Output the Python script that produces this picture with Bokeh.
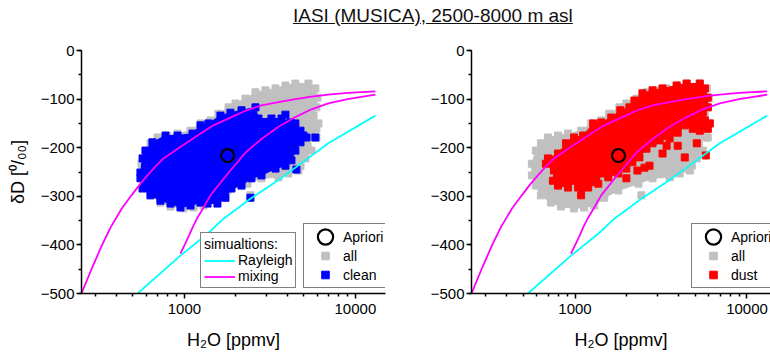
from bokeh.plotting import figure
from bokeh.models import (Range1d, FixedTicker, SingleIntervalTicker, PrintfTickFormatter,
                          Legend, LegendItem, Div)
from bokeh.layouts import column, row
from bokeh.embed import file_html
from bokeh.resources import INLINE

TITLE = "IASI (MUSICA), 2500-8000 m asl"
X_LABEL = "H\u2082O [ppmv]"
Y_LABEL = "\u03b4D [\u2070/\u2080\u2080]"

x_major_ticks = [1000, 10000]
x_minor_ticks = [300, 400, 500, 600, 700, 800, 900, 2000, 3000, 4000, 5000, 6000, 7000, 8000, 9000]

# simulations
rayleigh_h2o = [532, 948, 1365, 1692, 2432, 3499, 4457, 6950, 13100]
rayleigh_dd = [-500, -422, -377, -346, -305, -268, -241, -191, -134]

mix1_h2o = [250, 290, 330, 370, 430, 490, 550, 608, 680, 754, 850, 948, 1070, 1192, 1479,
            1858, 2275, 2823, 3548, 4457, 5534, 6950, 9000, 13100]
mix1_dd = [-500, -445, -400, -364, -325, -298, -275, -257, -238, -222, -210, -198, -186, -175, -154,
           -138, -124, -113, -106, -100, -95, -91, -87, -84]

mix2_h2o = [948, 1060, 1130, 1192, 1293, 1420, 1625, 1858, 2275, 2823, 3548, 4457, 5534, 6950,
            9000, 13100]
mix2_dd = [-418, -382, -360, -344, -323, -298, -272, -247, -210, -182, -157, -137, -121, -109,
           -100, -91]

apriori_h2o = [1790]
apriori_dd = [-216]

# "all" observations: edge of the dense cloud + isolated points
all_out_h2o = [561, 592, 633, 696, 796, 911, 1085, 1242, 1420, 1581, 1811, 1989, 2275, 2604,
               2979, 3409, 3899, 4457, 5314, 5834, 5998, 5916, 5689, 6081, 5916, 5458, 5534,
               5105, 4775, 4645, 4059, 3548, 2823, 2339, 1786, 1479, 1293, 1130, 987, 829,
               724, 633, 592, 561]
all_out_dd = [-233, -206, -191, -179, -175, -171, -165, -150, -144, -130, -117, -109, -99, -86,
              -82, -78, -72, -68, -68, -78, -97, -117, -134, -150, -161, -175, -206,
              -222, -237, -247, -253, -261, -263, -274, -288, -303, -319, -323, -325, -321,
              -313, -298, -278, -257]
all_pts_h2o = [5916, 2432, 5834, 3899]
all_pts_dd = [-179, -298, -179, -132]

# "clean" observations
clean_out_h2o = [553, 569, 592, 650, 775, 911, 1115, 1242, 1383, 1625, 1858, 2157, 2604, 2710,
                 3228, 3698, 4169, 4457, 4775, 4966, 5176, 4775, 4457, 4227, 3899, 3409, 2823,
                 2466, 2157, 1884, 1738, 1560, 1365, 1242, 1085, 948, 829, 724, 633, 569, 553]
clean_out_dd = [-251, -222, -206, -189, -175, -175, -171, -154, -150, -134, -128, -123, -117, -140,
                -140, -140, -148, -150, -165, -175, -179, -189, -206, -226, -237, -243, -257,
                -263, -278, -284, -303, -315, -315, -313, -319, -323, -315, -309, -298, -284, -263]
clean_pts_h2o = [3899, 5834, 4519, 2432]
clean_pts_dd = [-132, -179, -245, -303]

# "dust" observations
dust_out_h2o = [1834, 1625, 1420, 1275, 1115, 987, 887, 796, 696, 677, 754, 744, 796, 911, 987,
                1042, 1085, 1192, 1365, 1420, 1560, 1786, 1989, 2157, 2369, 2604, 2823, 3102,
                3548, 3954, 4345, 4836, 5314, 5916, 6081, 5689, 5534, 5916, 5916, 5689, 5314,
                4457, 3899, 3228, 2823, 2466, 2215, 2071]
dust_out_dd = [-123, -138, -148, -150, -175, -179, -191, -212, -222, -233, -247, -268, -278, -282, -268,
               -282, -298, -282, -274, -253, -261, -253, -243, -230, -220, -202, -191, -185,
               -181, -169, -154, -161, -165, -161, -150, -144, -128, -117, -97, -78, -68,
               -68, -72, -78, -82, -88, -103, -117]
dust_pts_h2o = [3409, 3954, 4345, 5105, 5761, 2535, 3228, 1989, 2306, 2710]
dust_pts_dd = [-196, -196, -220, -191, -216, -241, -212, -263, -247, -237]

GRAY = "#C0C0C0"
CYAN = "#00FFFF"
MAGENTA = "#FF00FF"
FONT = "Liberation Sans"


def make_panel(sub_out_h2o, sub_out_dd, sub_pts_h2o, sub_pts_dd, color, sub_label,
               x_end, width, border_right, show_ylabel, legend_x, sim_legend):
    p = figure(width=width, height=318, x_axis_type="log",
               x_range=Range1d(250, x_end), y_range=Range1d(-500, 0),
               output_backend="svg", toolbar_location=None,
               min_border_left=81, min_border_right=border_right,
               min_border_top=15, min_border_bottom=60,
               outline_line_color=None, background_fill_color="white",
               border_fill_color="white")
    p.xgrid.visible = False
    p.ygrid.visible = False

    # "all" cloud
    p.patch(all_out_h2o, all_out_dd, fill_color=GRAY, line_color=GRAY, line_width=1)
    p.scatter(all_out_h2o, all_out_dd, marker="square", size=7, fill_color=GRAY, line_color=GRAY)
    r_all = p.scatter(all_pts_h2o, all_pts_dd, marker="square", size=7,
                      fill_color=GRAY, line_color=GRAY)
    # subset cloud
    p.patch(sub_out_h2o, sub_out_dd, fill_color=color, line_color=color, line_width=1)
    p.scatter(sub_out_h2o, sub_out_dd, marker="square", size=7, fill_color=color, line_color=color)
    r_sub = p.scatter(sub_pts_h2o, sub_pts_dd, marker="square", size=7,
                      fill_color=color, line_color=color)
    # simulations
    r_ray = p.line(rayleigh_h2o, rayleigh_dd, line_color=CYAN, line_width=1.8)
    r_mix = p.multi_line([mix1_h2o, mix2_h2o], [mix1_dd, mix2_dd],
                         line_color=MAGENTA, line_width=1.8)
    r_apr = p.ellipse(x=apriori_h2o, y=apriori_dd, width=13, height=13,
                      width_units="screen", height_units="screen",
                      fill_color=None, line_color="black", line_width=2.2)

    p.xaxis.ticker = FixedTicker(ticks=x_major_ticks, minor_ticks=x_minor_ticks)
    p.xaxis.formatter = PrintfTickFormatter(format="%d")
    p.yaxis.ticker = SingleIntervalTicker(interval=100, num_minor_ticks=2)
    for ax in (p.xaxis[0], p.yaxis[0]):
        ax.axis_line_width = 1.5
        ax.axis_line_color = "black"
        ax.major_tick_line_width = 1.5
        ax.minor_tick_line_width = 1.5
        ax.major_tick_line_color = "black"
        ax.minor_tick_line_color = "black"
        ax.major_tick_in = 0
        ax.major_tick_out = 5
        ax.minor_tick_in = 0
        ax.minor_tick_out = 3
        ax.major_label_text_font = FONT
        ax.major_label_text_font_size = "15px"
        ax.major_label_text_color = "black"
        ax.axis_label_text_font = FONT
        ax.axis_label_text_font_size = "18px"
        ax.axis_label_text_font_style = "normal"
        ax.axis_label_text_color = "black"
    p.yaxis.major_label_standoff = 2
    p.xaxis.major_label_standoff = 5
    p.xaxis.axis_label = X_LABEL
    p.xaxis.axis_label_standoff = 13
    if show_ylabel:
        p.yaxis.axis_label = Y_LABEL
        p.yaxis.axis_label_standoff = 10

    def style(leg):
        leg.label_text_font = FONT
        leg.label_text_font_size = "14px"
        leg.label_text_color = "black"
        leg.border_line_color = "black"
        leg.border_line_width = 1
        leg.background_fill_color = "white"
        leg.background_fill_alpha = 1.0

    if sim_legend:
        leg1 = Legend(items=[LegendItem(label="Rayleigh", renderers=[r_ray]),
                             LegendItem(label="mixing", renderers=[r_mix])],
                      location=(119, 5), title="simualtions:",
                      glyph_width=31, glyph_height=15, label_height=15,
                      spacing=-1, padding=3, label_standoff=3, title_standoff=0)
        style(leg1)
        leg1.title_text_font = FONT
        leg1.title_text_font_size = "14px"
        leg1.title_text_font_style = "normal"
        leg1.title_text_color = "black"
        p.add_layout(leg1)

    leg2 = Legend(items=[LegendItem(label="Apriori", renderers=[r_apr]),
                         LegendItem(label="all", renderers=[r_all]),
                         LegendItem(label=sub_label, renderers=[r_sub])],
                  location=(legend_x, 5),
                  glyph_width=36, glyph_height=19, label_height=15,
                  spacing=-4, padding=3, label_standoff=0)
    style(leg2)
    p.add_layout(leg2)
    return p


p1 = make_panel(clean_out_h2o, clean_out_dd, clean_pts_h2o, clean_pts_dd, "#0000FF", "clean",
                15000, 390, 5, True, 222, True)
p2 = make_panel(dust_out_h2o, dust_out_dd, dust_pts_h2o, dust_pts_dd, "#FF0000", "dust",
                13700, 380, 0, False, 220, False)

title = Div(text=('<div style="padding:5px 0 0 293px;font-family:\'Liberation Sans\';'
                  'font-size:19px;line-height:21px;text-decoration:underline;'
                  'color:#111111;white-space:nowrap">' + TITLE + '</div>'),
            width=770, height=35, margin=(0, 0, 0, 0))

layout = column(title, row(p1, p2, spacing=0), spacing=0)
open("out.html", "w").write(file_html(layout, INLINE))
